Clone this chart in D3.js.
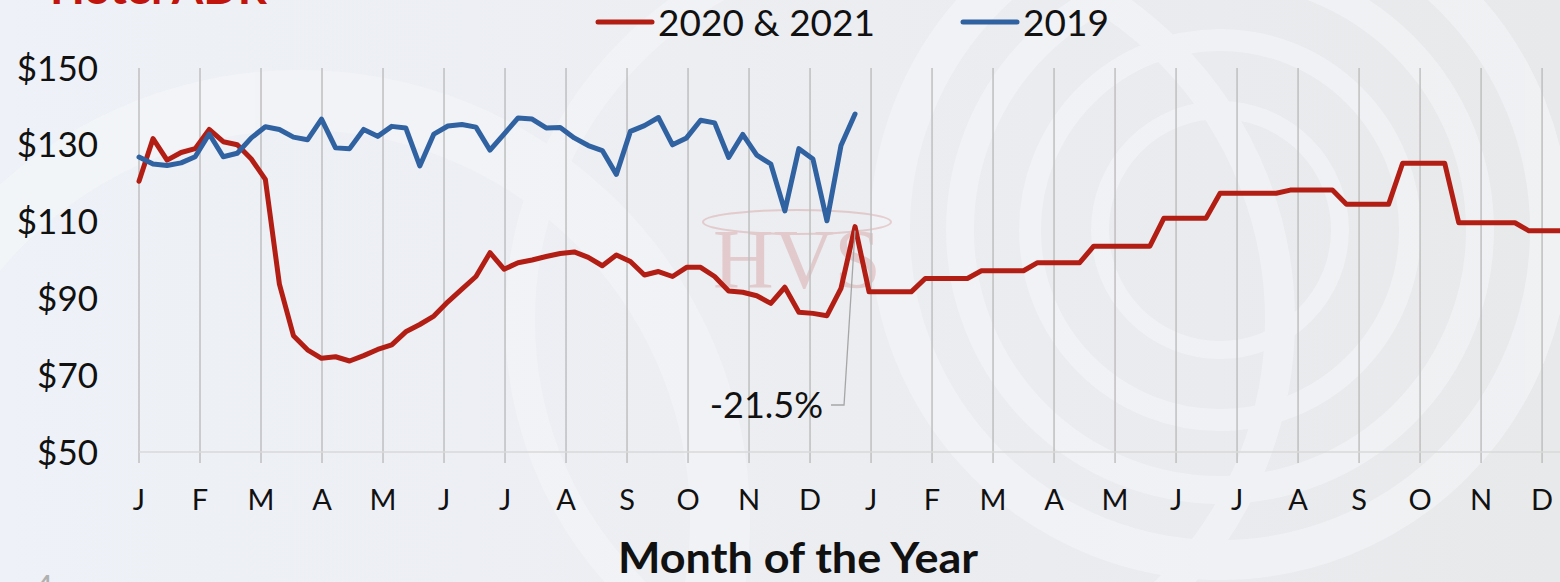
<!DOCTYPE html>
<html><head><meta charset="utf-8">
<script src="https://cdn.jsdelivr.net/npm/d3@7"></script>
<style>
html,body{margin:0;padding:0;overflow:hidden;background:#eef0f4;}
svg{display:block;font-family:Lato,"Open Sans",sans-serif;}
</style></head>
<body>
<script>
// ---- data ----
const monthLabels = ["J","F","M","A","M","J","J","A","S","O","N","D","J","F","M","A","M","J","J","A","S","O","N","D"];
const yTicks = [50,70,90,110,130,150];
// weekly ADR, 2019 (blue)
const adr2019 = [126.8,125,124.6,125.3,126.9,132.8,126.9,127.8,131.8,134.7,134,132,131.3,136.7,129.2,129,134,132.2,134.8,134.4,124.5,132.8,134.9,135.3,134.6,128.6,132.8,137,136.7,134.4,134.5,131.8,129.8,128.5,122.3,133.5,135,137.1,130,131.8,136.4,135.7,126.7,132.7,127.3,125,112.8,129,126.3,110.2,129.8,138];
// weekly ADR, 2020 (red)
const adr2020 = [120.5,131.6,126,128,129,134,130.8,130,126.3,121,93.7,80.3,76.6,74.4,74.8,73.7,75.1,76.7,77.9,81.3,83.2,85.4,89.1,92.4,95.7,101.9,97.6,99.3,100,100.9,101.7,102.1,100.7,98.5,101.3,99.6,96.1,97,95.7,98.1,98.1,95.7,91.9,91.6,90.7,88.7,92.9,86.4,86.1,85.5,92.6,108.7];
// weekly ADR, 2021 forecast (red, continues 2020)
const adr2021 = [91.7,91.7,91.7,91.7,95.2,95.2,95.2,95.2,97.2,97.2,97.2,97.2,99.3,99.3,99.3,99.3,103.6,103.6,103.6,103.6,103.6,110.9,110.9,110.9,110.9,117.4,117.4,117.4,117.4,117.4,118.2,118.2,118.2,118.2,114.5,114.5,114.5,114.5,125.2,125.2,125.2,125.2,109.7,109.7,109.7,109.7,109.7,107.6,107.6,107.6,107.6,107.6];
const seriesNames = ["2020 & 2021","2019"];
const seriesColors = ["#b21e14","#3061a0"];
const annotationLabel = "-21.5%";
const weeksPerMonth = 52.14/12;

// ---- chart ----
const W = 1560, H = 582;
const svg = d3.select("body").append("svg").attr("width",W).attr("height",H);

// background
const defs = svg.append("defs");
const bg = defs.append("linearGradient").attr("id","bg").attr("x1","0").attr("x2","1").attr("y1","0").attr("y2","0");
bg.append("stop").attr("offset","0").attr("stop-color","#eef1f7");
bg.append("stop").attr("offset","0.45").attr("stop-color","#eceef2");
bg.append("stop").attr("offset","1").attr("stop-color","#e8e9eb");
svg.append("rect").attr("width",W).attr("height",H).attr("fill","url(#bg)");
// soft swirl decoration
const deco = svg.append("g").attr("fill","none").attr("stroke","#f6f7fa").attr("opacity",0.55);
[[1220,230,330,40],[1220,230,260,28],[1220,230,190,22],[1220,230,120,18],[300,520,420,60],[900,320,380,30]].forEach(d=>{
  deco.append("circle").attr("cx",d[0]).attr("cy",d[1]).attr("r",d[2]).attr("stroke-width",d[3]);
});

const x = d3.scaleLinear().domain([0, 24*weeksPerMonth]).range([139, 139 + 14.04*24*weeksPerMonth]);
const y = d3.scaleLinear().domain([50,150]).range([452,68]);

// watermark
const wm = svg.append("g").attr("opacity",0.22);
wm.append("ellipse").attr("cx",797).attr("cy",222).attr("rx",94).attr("ry",12).attr("fill","none").attr("stroke","#c0504d").attr("stroke-width",2);
wm.append("text").attr("x",797).attr("y",288).attr("text-anchor","middle").attr("font-family","Liberation Serif,serif").attr("font-size",84).attr("fill","#c0504d").text("HVS");

// vertical gridlines + ticks
const monthIdx = d3.range(monthLabels.length);
svg.append("g").selectAll("line").data(monthIdx).join("line")
  .attr("x1",d=>x(d*weeksPerMonth)).attr("x2",d=>x(d*weeksPerMonth))
  .attr("y1",y(150)).attr("y2",y(50)+11)
  .attr("stroke","#bfbfbf").attr("stroke-width",1.5);
// category axis line
svg.append("line").attr("x1",x(0)).attr("x2",W).attr("y1",y(50)).attr("y2",y(50)).attr("stroke","#d9d9d9").attr("stroke-width",1.6);

// y labels
svg.append("g").selectAll("text").data(yTicks).join("text")
  .attr("x",98).attr("y",d=>y(d)).attr("dy","0.36em").attr("text-anchor","end")
  .attr("font-size",35).attr("fill","#111").text(d=>"$"+d);

// x labels
svg.append("g").selectAll("text").data(monthIdx).join("text")
  .attr("x",d=>x(d*weeksPerMonth)).attr("y",510).attr("text-anchor","middle")
  .attr("font-size",29).attr("fill","#111").text(d=>monthLabels[d]);

// axis title
svg.append("text").attr("x",798).attr("y",573).attr("text-anchor","middle")
  .attr("font-size",42).attr("font-weight","bold").attr("fill","#111")
  .attr("textLength",360).attr("lengthAdjust","spacingAndGlyphs").text("Month of the Year");

// chart title (cut off at top, as in the slide)
svg.append("text").attr("x",50).attr("y",4).attr("font-size",44).attr("font-weight","bold").attr("fill","#c0140c")
  .attr("textLength",217).attr("lengthAdjust","spacingAndGlyphs").text("Hotel ADR");
// slide number
svg.append("text").attr("x",34).attr("y",600).attr("font-size",34).attr("fill","#b0b0b0").text("4");

// lines
const red = adr2020.concat(adr2021).map((v,i)=>[i,v]);
const blue = adr2019.map((v,i)=>[i,v]);
const line = d3.line().x(d=>x(d[0])).y(d=>y(d[1]));
svg.append("path").attr("d",line(red)).attr("fill","none").attr("stroke",seriesColors[0]).attr("stroke-width",5).attr("stroke-linejoin","round").attr("stroke-linecap","round");
svg.append("path").attr("d",line(blue)).attr("fill","none").attr("stroke",seriesColors[1]).attr("stroke-width",5).attr("stroke-linejoin","round").attr("stroke-linecap","round");

// annotation for the last 2020 point
const peakI = adr2020.length-1;
const px = x(peakI), py = y(adr2020[peakI]);
svg.append("path").attr("d",`M${px},${py+4}L${px-11},${y(50)-47}L${px-24},${y(50)-47}`)
  .attr("fill","none").attr("stroke","#a6a6a6").attr("stroke-width",1.3);
svg.append("text").attr("x",px-32).attr("y",y(50)-47).attr("dy","0.36em").attr("text-anchor","end")
  .attr("font-size",36).attr("fill","#111").text(annotationLabel);

// legend
const lg = svg.append("g");
const legX = [598, 963];
seriesNames.forEach((n,i)=>{
  lg.append("line").attr("x1",legX[i]).attr("x2",legX[i]+54).attr("y1",22).attr("y2",22)
    .attr("stroke",seriesColors[i]).attr("stroke-width",5).attr("stroke-linecap","round");
  lg.append("text").attr("x",legX[i]+60).attr("y",36).attr("font-size",37).attr("fill","#111").text(n);
});
</script>
</body></html>
